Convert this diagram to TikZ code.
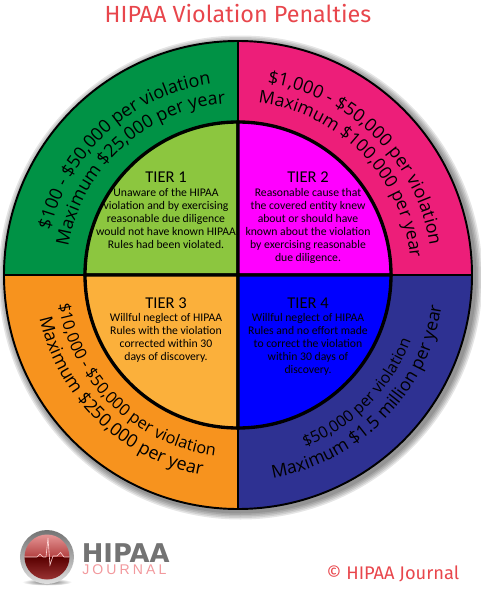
\documentclass[tikz,border=0pt]{standalone}
\usepackage{fontspec}
\setmainfont{Open Sans}
\newfontfamily\tierfont{Carlito}
\newfontfamily\titlefont{Fira Sans}
\newfontfamily\logofont{DejaVu Sans}
\newfontfamily\journalfont{Liberation Sans}
\usetikzlibrary{decorations.text}

\definecolor{titlered}{RGB}{232,70,76}
\definecolor{outergreen}{RGB}{0,146,69}
\definecolor{outerpink}{RGB}{237,30,121}
\definecolor{outerorange}{RGB}{247,147,30}
\definecolor{outernavy}{RGB}{46,49,146}
\definecolor{innergreen}{RGB}{140,198,63}
\definecolor{innermagenta}{RGB}{255,0,255}
\definecolor{innerorange}{RGB}{251,176,59}
\definecolor{innerblue}{RGB}{0,0,255}

\tikzset{
  outerpart/.style={draw=black,line width=1.1pt},
  innerpart/.style={draw=black,line width=1.9pt},
  tierhead/.style={inner sep=0pt,font=\tierfont\fontsize{9.4pt}{10pt}\selectfont},
  tierbody/.style={inner sep=0pt,align=center,font=\tierfont\fontsize{6.65pt}{7.4pt}\selectfont},
  arclabel/.style 2 args={decorate,decoration={text along path,text align=center,text={|\fontsize{#1}{12pt}\selectfont|#2}}},
}

\begin{document}
\begin{tikzpicture}
    \useasboundingbox (-4.76,5.5) rectangle (4.84,-6.5);

    % Title
    \node[text=titlered,font=\titlefont\fontsize{13.3pt}{15pt}\selectfont] (title) at (0,5.22) {HIPAA Violation Penalties};

    % Shadow
    \foreach \d in {0.16,0.13,0.10,0.07,0.04}
        \fill[black,opacity=0.1] (0.05,-0.05) circle (4.68+\d);

    % Outer ring
    \filldraw[outerpart,fill=outergreen] (0,0) -- (90:4.68) arc (90:180:4.68) -- cycle;
    \filldraw[outerpart,fill=outerpink] (0,0) -- (0:4.68) arc (0:90:4.68) -- cycle;
    \filldraw[outerpart,fill=outerorange] (0,0) -- (180:4.68) arc (180:270:4.68) -- cycle;
    \filldraw[outerpart,fill=outernavy] (0,0) -- (270:4.68) arc (270:360:4.68) -- cycle;

    % Inner disc
    \filldraw[innerpart,fill=innergreen] (0,0) -- (90:3.06) arc (90:180:3.06) -- cycle;
    \filldraw[innerpart,fill=innermagenta] (0,0) -- (0:3.06) arc (0:90:3.06) -- cycle;
    \filldraw[innerpart,fill=innerorange] (0,0) -- (180:3.06) arc (180:270:3.06) -- cycle;
    \filldraw[innerpart,fill=innerblue] (0,0) -- (270:3.06) arc (270:360:3.06) -- cycle;

    % Penalties along the ring
    \path[arclabel={10.2pt}{{\$}100 - {\$}50,000 per violation}] (178:3.86) arc (178:86.6:3.86);
    \path[arclabel={10.2pt}{Maximum {\$}25,000 per year}] (178:3.44) arc (178:86.6:3.44);
    \path[arclabel={10.2pt}{{\$}1,000 - {\$}50,000 per violation}] (90:3.88) arc (90:0:3.88);
    \path[arclabel={10pt}{Maximum {\$}100,000 per year}] (89:3.46) arc (89:0:3.46);
    \path[arclabel={9.3pt}{{\$}10,000 - {\$}50,000 per violation}] (181:3.64) arc (181:271:3.64);
    \path[arclabel={10.2pt}{Maximum {\$}250,000 per year}] (181:4.06) arc (181:271:4.06);
    \path[arclabel={9pt}{{\$}50,000 per violation}] (-80:3.7) arc (-80:-9.5:3.7);
    \path[arclabel={10.1pt}{Maximum {\$}1.5 million per year}] (-90:4.12) arc (-90:1:4.12);

    % Tier texts
    \node[tierhead] (tier1) at (-1.44,1.95) {TIER 1};
    \node[tierbody,below=2.5pt] (text1) at (tier1.south) {Unaware of the HIPAA\\violation and by exercising\\reasonable due diligence\\would not have known HIPAA\\Rules had been violated.};
    \node[tierhead] (tier2) at (1.40,1.95) {TIER 2};
    \node[tierbody,below=2.5pt] (text2) at (tier2.south) {Reasonable cause that\\the covered entity knew\\about or should have\\known about the violation\\by exercising reasonable\\due diligence.};
    \node[tierhead] (tier3) at (-1.44,-0.56) {TIER 3};
    \node[tierbody,below=2.5pt] (text3) at (tier3.south) {Willful neglect of HIPAA\\Rules with the violation\\corrected within 30\\days of discovery.};
    \node[tierhead] (tier4) at (1.40,-0.56) {TIER 4};
    \node[tierbody,below=2.5pt] (text4) at (tier4.south) {Willful neglect of HIPAA\\Rules and no effort made\\to correct the violation\\within 30 days of\\discovery.};

    % Logo
    \shade[inner color=black!60,outer color=white] (-3.82,-6.14) ellipse (0.5 and 0.07);
    \shade[top color=black!55,bottom color=black!12] (-3.82,-5.64) circle (0.54);
    \shade[top color=red!35!white!90!black,bottom color=red!60!black!75] (-3.82,-5.64) ++(0:0.45) arc (0:180:0.45) -- cycle;
    \shade[top color=red!35!black,bottom color=red!50!black!80] (-3.82,-5.64) ++(180:0.45) arc (180:360:0.45) -- cycle;
    \draw[white!85!red,line width=0.35pt] (-4.27,-5.64) -- (-4.02,-5.64) -- (-3.96,-5.58) -- (-3.90,-5.64) -- (-3.84,-5.64) -- (-3.80,-5.26) -- (-3.76,-5.80) -- (-3.70,-5.62) -- (-3.62,-5.62) -- (-3.55,-5.55) -- (-3.48,-5.64) -- (-3.37,-5.64);
    \node[inner sep=0pt,anchor=west,text=black!55,font=\logofont\bfseries\fontsize{14.7pt}{15pt}\selectfont] (logoname) at (-3.13,-5.56) {HIPAA};
    \node[inner sep=0pt,anchor=west,text=titlered!55!white,font=\journalfont\fontsize{8pt}{9pt}\selectfont] (logojournal) at (-3.12,-5.9) {\addfontfeature{LetterSpace=22}JOURNAL};

    % Copyright
    \node[text=titlered,font=\titlefont\fontsize{10.4pt}{12pt}\selectfont] (copyright) at (3.1,-5.98) {© HIPAA Journal};
\end{tikzpicture}
\end{document}
